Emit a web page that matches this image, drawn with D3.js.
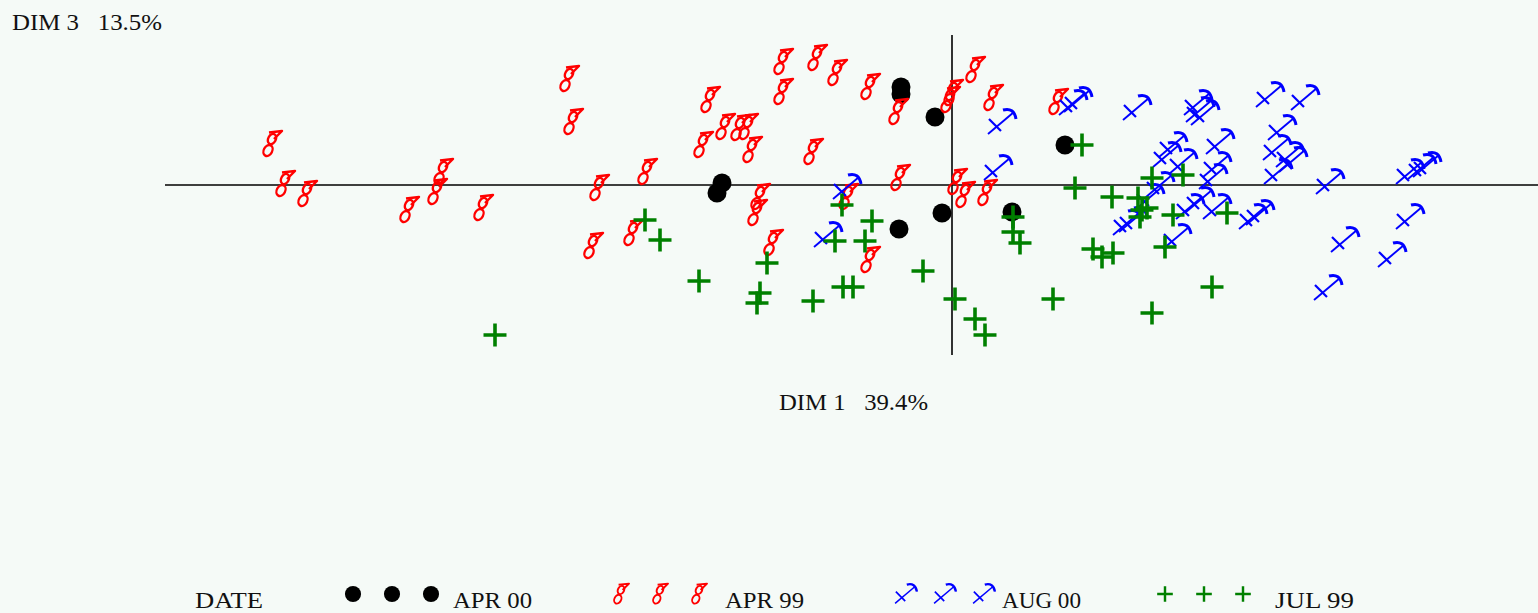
<!DOCTYPE html>
<html>
<head>
<meta charset="utf-8">
<script src="https://cdn.jsdelivr.net/npm/d3@7"></script>
<style>
  html, body { margin: 0; padding: 0; background: #f5faf7; }
  svg { display: block; }
  text { font-family: "Liberation Serif", "DejaVu Serif", serif; fill: #111; }
</style>
</head>
<body>
<svg id="chart" width="1538" height="613"></svg>
<script>
// [DIM 1, DIM 3] scores per date
const apr00 = [[-0.51, 0.98], [-0.51, 0.91], [-0.17, 0.68], [-2.30, 0.02], [-2.35, -0.08],
  [-0.53, -0.44], [-0.10, -0.28], [1.13, 0.40], [0.60, -0.27]]

const apr99 = [[-6.80, 0.41], [-6.67, 0.01], [-6.45, -0.09], [-5.43, -0.25], [-5.15, -0.07],
  [-5.09, 0.13], [-4.69, -0.23], [-3.83, 1.06], [-3.79, 0.63], [-3.53, -0.03], [-3.59, -0.61],
  [-3.05, 0.13], [-3.19, -0.48], [-2.42, 0.85], [-2.49, 0.40], [-2.27, 0.58], [-2.12, 0.57],
  [-2.04, 0.58], [-2.00, 0.35], [-1.69, 1.23], [-1.35, 1.27], [-1.15, 1.12], [-1.69, 0.93],
  [-0.82, 0.98], [-1.39, 0.33], [-0.54, 0.73], [0.01, 0.92], [-0.02, 0.85], [0.23, 1.15],
  [0.41, 0.87], [1.06, 0.83], [-0.52, 0.07], [-1.92, -0.12], [-1.95, -0.28], [-1.79, -0.58],
  [-0.82, -0.75], [-1.04, -0.12], [0.05, 0.03], [0.13, -0.10], [0.35, -0.08]]

const aug00 = [[-1.05, -0.02], [-1.24, -0.50], [0.50, 0.63], [0.46, 0.17], [1.21, 0.82],
  [1.26, 0.85], [1.85, 0.77], [2.48, 0.75], [2.53, 0.72], [2.46, 0.82], [2.21, 0.40],
  [2.15, 0.30], [2.31, 0.23], [2.68, 0.43], [2.65, 0.20], [2.61, 0.08], [2.08, 0.00],
  [2.38, -0.22], [2.48, -0.15], [2.65, -0.22], [1.81, -0.35], [1.75, -0.38], [2.25, -0.52],
  [3.01, -0.32], [1.98, -0.12], [3.18, 0.90], [3.53, 0.87], [3.30, 0.57], [3.25, 0.37],
  [3.38, 0.30], [3.41, 0.25], [3.26, 0.13], [3.78, 0.03], [4.58, 0.13], [4.70, 0.18],
  [4.75, 0.20], [3.08, -0.28], [4.58, -0.32], [3.93, -0.55], [4.40, -0.70], [3.76, -1.03]]

const jul99 = [[-4.57, -1.50], [-3.07, -0.35], [-2.92, -0.55], [-2.53, -0.96], [-1.85, -0.78],
  [-1.92, -1.08], [-1.95, -1.18], [-1.39, -1.16], [-1.09, -1.02], [-0.99, -1.02], [-1.10, -0.20],
  [-0.80, -0.36], [-1.17, -0.56], [-0.87, -0.56], [-0.29, -0.86], [0.03, -1.14], [0.23, -1.34],
  [0.33, -1.50], [1.30, 0.40], [1.23, -0.03], [1.60, -0.12], [0.61, -0.32], [0.61, -0.47],
  [0.68, -0.58], [1.41, -0.64], [1.50, -0.72], [1.61, -0.68], [2.00, 0.07], [2.31, 0.10],
  [1.86, -0.13], [1.90, -0.25], [1.88, -0.32], [1.95, -0.23], [2.21, -0.30], [2.75, -0.28],
  [2.13, -0.62], [2.60, -1.02], [2.00, -1.28], [1.01, -1.14]]

const legendLabels = ['APR 00', 'APR 99', 'AUG 00', 'JUL 99']
const xLabel = 'DIM 1   39.4%'
const yLabel = 'DIM 3   13.5%'

const svg = d3.select('#chart')
const x = d3.scaleLinear().domain([-7.87, 5.86]).range([165, 1538])
const y = d3.scaleLinear().domain([1.5, -1.7]).range([35, 355])

svg.append('rect').attr('width', 1538).attr('height', 613).attr('fill', '#f5faf7')

// reference axes through the origin
svg.append('line')
  .attr('x1', x(-7.87)).attr('x2', x(5.86))
  .attr('y1', y(0)).attr('y2', y(0))
  .attr('stroke', '#000').attr('stroke-width', 1.6)
svg.append('line')
  .attr('x1', x(0)).attr('x2', x(0))
  .attr('y1', y(1.5)).attr('y2', y(-1.7))
  .attr('stroke', '#000').attr('stroke-width', 1.6)

// glyph drawers, local coords around (0,0)
function drawDot(g, s){
  g.append('circle').attr('r', 9.5 * s).attr('fill', '#000')
}
function drawNote(g, s){
  const h = g.append('g').attr('transform', 'scale(' + s + ')')
    .attr('fill', 'none').attr('stroke', '#f00').attr('stroke-width', 2.4)
  h.append('ellipse').attr('cx', 0).attr('cy', -5).attr('rx', 3.8).attr('ry', 5.4)
    .attr('transform', 'rotate(28 0 -5)')
  h.append('ellipse').attr('cx', -4).attr('cy', 6.5).attr('rx', 4.2).attr('ry', 5.8)
    .attr('transform', 'rotate(28 -4 6.5)')
  h.append('path').attr('d', 'M-3,-11.5 L10,-13 L2,-5').attr('stroke-linejoin', 'round')
}
function drawArrow(g, s){
  const h = g.append('g').attr('transform', 'scale(' + s + ')')
    .attr('fill', 'none').attr('stroke', '#0000ff')
  h.append('path').attr('d', 'M-14,12 L12,-10').attr('stroke-width', 1.9)
  h.append('path').attr('d', 'M-13,-3 L-1,9').attr('stroke-width', 2.2)
  h.append('path').attr('d', 'M1,-12 Q12,-15 14,-3').attr('stroke-width', 3)
}
function drawPlus(g, s){
  g.append('path').attr('d', 'M' + (-11.5 * s) + ',0 H' + (11.5 * s) + ' M0,' + (-11.5 * s) + ' V' + (11.5 * s))
    .attr('stroke', '#008000').attr('stroke-width', 3.6 * s > 2.4 ? 3.6 * s : 2.4).attr('fill', 'none')
}

const series = [
  { data: apr00, draw: drawDot },
  { data: apr99, draw: drawNote },
  { data: aug00, draw: drawArrow },
  { data: jul99, draw: drawPlus }
]

series.forEach(function(sr){
  svg.append('g').selectAll('g')
    .data(sr.data)
    .enter()
    .append('g')
    .attr('transform', function(d){ return 'translate(' + x(d[0]) + ',' + y(d[1]) + ')' })
    .each(function(){ sr.draw(d3.select(this), 1) })
})

// axis titles
svg.append('text').attr('x', 12).attr('y', 30)
  .attr('font-size', 23).attr('textLength', 150).attr('lengthAdjust', 'spacingAndGlyphs')
  .style('white-space', 'pre').text(yLabel)
svg.append('text').attr('x', 779).attr('y', 410)
  .attr('font-size', 23).attr('textLength', 149).attr('lengthAdjust', 'spacingAndGlyphs')
  .style('white-space', 'pre').text(xLabel)

// legend
const legY = 594
svg.append('text').attr('x', 195).attr('y', legY + 14)
  .attr('font-size', 24).attr('textLength', 68).attr('lengthAdjust', 'spacingAndGlyphs').text('DATE')

const legSymX = [353, 621, 906, 1165]
const legTextX = [453, 725, 1002, 1275]
const legScale = [0.85, 0.8, 0.78, 0.68]
legendLabels.forEach(function(lbl, i){
  for (let k = 0; k < 3; k++){
    const g = svg.append('g').attr('transform', 'translate(' + (legSymX[i] + k * 39) + ',' + legY + ')')
    series[i].draw(g, legScale[i])
  }
  svg.append('text').attr('x', legTextX[i]).attr('y', legY + 14)
    .attr('font-size', 24).attr('textLength', 79).attr('lengthAdjust', 'spacingAndGlyphs')
    .text(lbl)
})
</script>
</body>
</html>
